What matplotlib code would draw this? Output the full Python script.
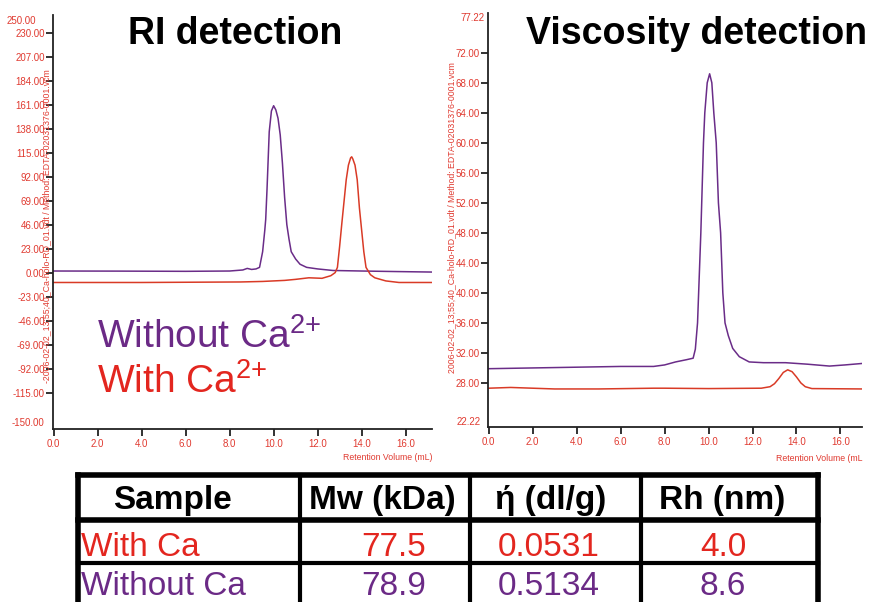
import matplotlib
matplotlib.use("Agg")
import matplotlib.pyplot as plt

plt.rcParams['font.family'] = ['Liberation Sans', 'DejaVu Sans']
plt.rcParams['mathtext.fontset'] = 'custom'
plt.rcParams['mathtext.rm'] = 'Liberation Sans'
plt.rcParams['mathtext.it'] = 'Liberation Sans'
plt.rcParams['mathtext.default'] = 'regular'

# ---------------- data ----------------
# RI detection
ri_without_x = [0, 3, 6, 8.0, 8.6, 8.8, 9.0, 9.2, 9.36, 9.5, 9.6, 9.64, 9.7, 9.8, 9.9, 10.0,
                10.1, 10.2, 10.3, 10.4, 10.5, 10.6, 10.7, 10.8, 11.0, 11.2, 11.5, 12.0, 12.7,
                14.0, 15.5, 17.2]
ri_without_y = [1.5, 1.4, 1.2, 1.5, 2.5, 4.0, 3.0, 3.5, 5, 20, 41, 51, 80, 135, 155, 160,
                156, 148, 132, 105, 72, 46, 32, 20, 13, 8, 5, 3.5, 2.0,
                1.5, 1.0, 0.5]
ri_with_x = [0, 4, 8.5, 9.5, 10.5, 11.0, 11.6, 12.2, 12.6, 12.8, 12.9, 13.0, 13.1, 13.2, 13.3,
             13.4, 13.5, 13.55, 13.6, 13.7, 13.8, 13.9, 14.0, 14.1, 14.2, 14.4, 14.6, 15.1,
             15.7, 17.2]
ri_with_y = [-9.5, -9.5, -9.0, -8.5, -7.5, -6.5, -5.0, -5.5, -3.0, 0, 5, 25, 47, 68, 89,
             103, 110, 111, 109, 103, 89, 62, 41, 20, 5, -2, -5, -8,
             -9.5, -9.5]

# Viscosity detection
vis_without_x = [0, 2, 4, 6, 7.5, 8.0, 8.5, 9.0, 9.3, 9.4, 9.5, 9.6, 9.65, 9.7, 9.77, 9.83,
                 9.94, 10.05, 10.15, 10.24, 10.35, 10.45, 10.55, 10.65, 10.75, 10.9, 11.1,
                 11.4, 11.85, 12.5, 13.5, 14.5, 15.5, 16.2, 17.0]
vis_without_y = [29.9, 30.0, 30.1, 30.2, 30.2, 30.4, 30.8, 31.1, 31.3, 32.5, 36, 44, 48, 53,
                 60, 64, 68, 69.2, 68, 64, 60, 52, 48, 40, 36, 34.3, 32.6,
                 31.5, 30.8, 30.7, 30.7, 30.5, 30.25, 30.4, 30.6]
vis_with_x = [0, 1, 2, 3, 5, 7.5, 8, 10, 12.4, 12.8, 13.0, 13.2, 13.4, 13.6, 13.8, 14.0,
              14.2, 14.4, 14.7, 17.0]
vis_with_y = [27.3, 27.4, 27.3, 27.2, 27.2, 27.3, 27.3, 27.25, 27.3, 27.5, 27.9, 28.6, 29.4,
              29.75, 29.5, 28.8, 28.0, 27.5, 27.25, 27.2]

ri_yticks = [-115, -92, -69, -46, -23, 0, 23, 46, 69, 92, 115, 138, 161, 184, 207, 230]
vis_yticks = [28, 32, 36, 40, 44, 48, 52, 56, 60, 64, 68, 72]
xticks = [0, 2, 4, 6, 8, 10, 12, 14, 16]

table_header = ["Sample", "Mw (kDa)", "ή (dl/g)", "Rh (nm)"]
table_samples = ["With Ca", "Without Ca"]
table_mw = ["77.5", "78.9"]
table_eta = ["0.0531", "0.5134"]
table_rh = ["4.0", "8.6"]

# ---------------- style ----------------
PURPLE = "#6a2c88"
RED = "#d93a26"
TXT_RED = "#e3261f"
TXT_PURPLE = "#6b2a86"
TICK_RED = "#e03a30"

W, H = 872, 602
fig = plt.figure(figsize=(W / 100, H / 100), dpi=100)


def px_ax(x0, y0, x1, y1):
    return fig.add_axes([x0 / W, 1 - y1 / H, (x1 - x0) / W, (y1 - y0) / H])


def style(ax, yticks, fmt):
    for s in ['top', 'right']:
        ax.spines[s].set_visible(False)
    for s in ['left', 'bottom']:
        ax.spines[s].set_linewidth(1.3)
        ax.spines[s].set_color('#222222')
    ax.set_xticks(xticks)
    ax.set_xticklabels([f"{v:.1f}" for v in xticks])
    ax.set_yticks(yticks)
    ax.set_yticklabels([fmt.format(v) for v in yticks])
    ax.tick_params(axis='x', length=5, width=1.3, color='#222222', labelcolor=TICK_RED,
                   labelsize=7, pad=2)
    ax.tick_params(axis='y', length=5, width=1.3, color='#222222', labelcolor=TICK_RED,
                   labelsize=7, pad=1)


# ---- RI axes ----
ax1 = px_ax(53, 15, 432, 429)
ax1.plot(ri_without_x, ri_without_y, color=PURPLE, lw=1.1)
ax1.plot(ri_with_x, ri_with_y, color=RED, lw=1.1)
ax1.set_xlim(-0.03, 17.2)
ax1.set_ylim(-150, 247)
style(ax1, ri_yticks, "{:.2f}")
ax1.text(-0.045, 0.985, "250.00", transform=ax1.transAxes, ha='right', va='center',
         fontsize=7, color=TICK_RED)
ax1.text(-0.024, 0.015, "-150.00", transform=ax1.transAxes, ha='right', va='center',
         fontsize=7, color=TICK_RED)
ax1.text(-0.016, 0.49, "-2006-02-02_13;55;40_Ca-holo-RD_01.vdt / Method: EDTA-02031376-0001.vcm",
         transform=ax1.transAxes, rotation=90, ha='center', va='center', fontsize=6.3,
         color=TICK_RED)
ax1.text(1.0, -0.07, "Retention Volume (mL)", transform=ax1.transAxes, ha='right', va='center',
         fontsize=6.3, color=TICK_RED)

# ---- Viscosity axes ----
ax2 = px_ax(488, 13, 862, 427)
ax2.plot(vis_without_x, vis_without_y, color=PURPLE, lw=1.1)
ax2.plot(vis_with_x, vis_with_y, color=RED, lw=1.1)
ax2.set_xlim(-0.03, 16.98)
ax2.set_ylim(22.13, 77.3)
style(ax2, vis_yticks, "{:.2f}")
ax2.text(-0.01, 0.988, "77.22", transform=ax2.transAxes, ha='right', va='center',
         fontsize=7, color=TICK_RED)
ax2.text(-0.02, 0.013, "22.22", transform=ax2.transAxes, ha='right', va='center',
         fontsize=7, color=TICK_RED)
ax2.text(-0.096, 0.505, "2006-02-02_13;55;40_Ca-holo-RD_01.vdt / Method: EDTA-02031376-0001.vcm",
         transform=ax2.transAxes, rotation=90, ha='center', va='center', fontsize=6.3,
         color=TICK_RED)
ax2.text(1.0, -0.075, "Retention Volume (mL", transform=ax2.transAxes, ha='right', va='center',
         fontsize=6.3, color=TICK_RED)

# ---- overlay for titles, legend text and table ----
ov = fig.add_axes([0, 0, 1, 1], zorder=5)
ov.set_xlim(0, W)
ov.set_ylim(H, 0)
ov.axis('off')
ov.patch.set_alpha(0)

ov.text(235.5, 44, "RI detection", ha='center', va='baseline', fontsize=27,
        fontweight='bold', color='black')
ov.text(697, 44, "Viscosity detection", ha='center', va='baseline', fontsize=27,
        fontweight='bold', color='black')

ov.text(97, 348, r"Without Ca$^{\text{2+}}$", ha='left', va='baseline', fontsize=28,
        color=TXT_PURPLE)
ov.text(97, 393, r"With Ca$^{\text{2+}}$", ha='left', va='baseline', fontsize=28,
        color=TXT_RED)

# table grid
lw_out = 4.0
tl, tr, tt = 78, 818, 475
row_lines = [520, 563]
col_lines = [300, 470, 641]
ov.plot([tl, tr], [tt, tt], color='black', lw=lw_out, solid_capstyle='projecting')
ov.plot([tl, tl], [tt, H + 5], color='black', lw=lw_out, solid_capstyle='projecting')
ov.plot([tr, tr], [tt, H + 5], color='black', lw=lw_out, solid_capstyle='projecting')
ov.plot([tl, tr], [row_lines[0], row_lines[0]], color='black', lw=lw_out)
ov.plot([tl, tr], [row_lines[1], row_lines[1]], color='black', lw=3.0)
for cx in col_lines:
    ov.plot([cx, cx], [tt, H + 5], color='black', lw=3.0)

header_x = [172, 382, 551, 722]
for hx, label in zip(header_x, table_header):
    ov.text(hx, 509, label, ha='center', va='baseline', fontsize=24, fontweight='bold',
            color='black')

row_y = [556, 595]
row_colors = [TXT_RED, TXT_PURPLE]
for i in range(2):
    c = row_colors[i]
    ov.text(81, row_y[i], table_samples[i], ha='left', va='baseline', fontsize=24, color=c)
    ov.text(394, row_y[i], table_mw[i], ha='center', va='baseline', fontsize=24, color=c)
    ov.text(549, row_y[i], table_eta[i], ha='center', va='baseline', fontsize=24, color=c)
    ov.text(723, row_y[i], table_rh[i], ha='center', va='baseline', fontsize=24, color=c)

fig.savefig("out.png", dpi=100)
